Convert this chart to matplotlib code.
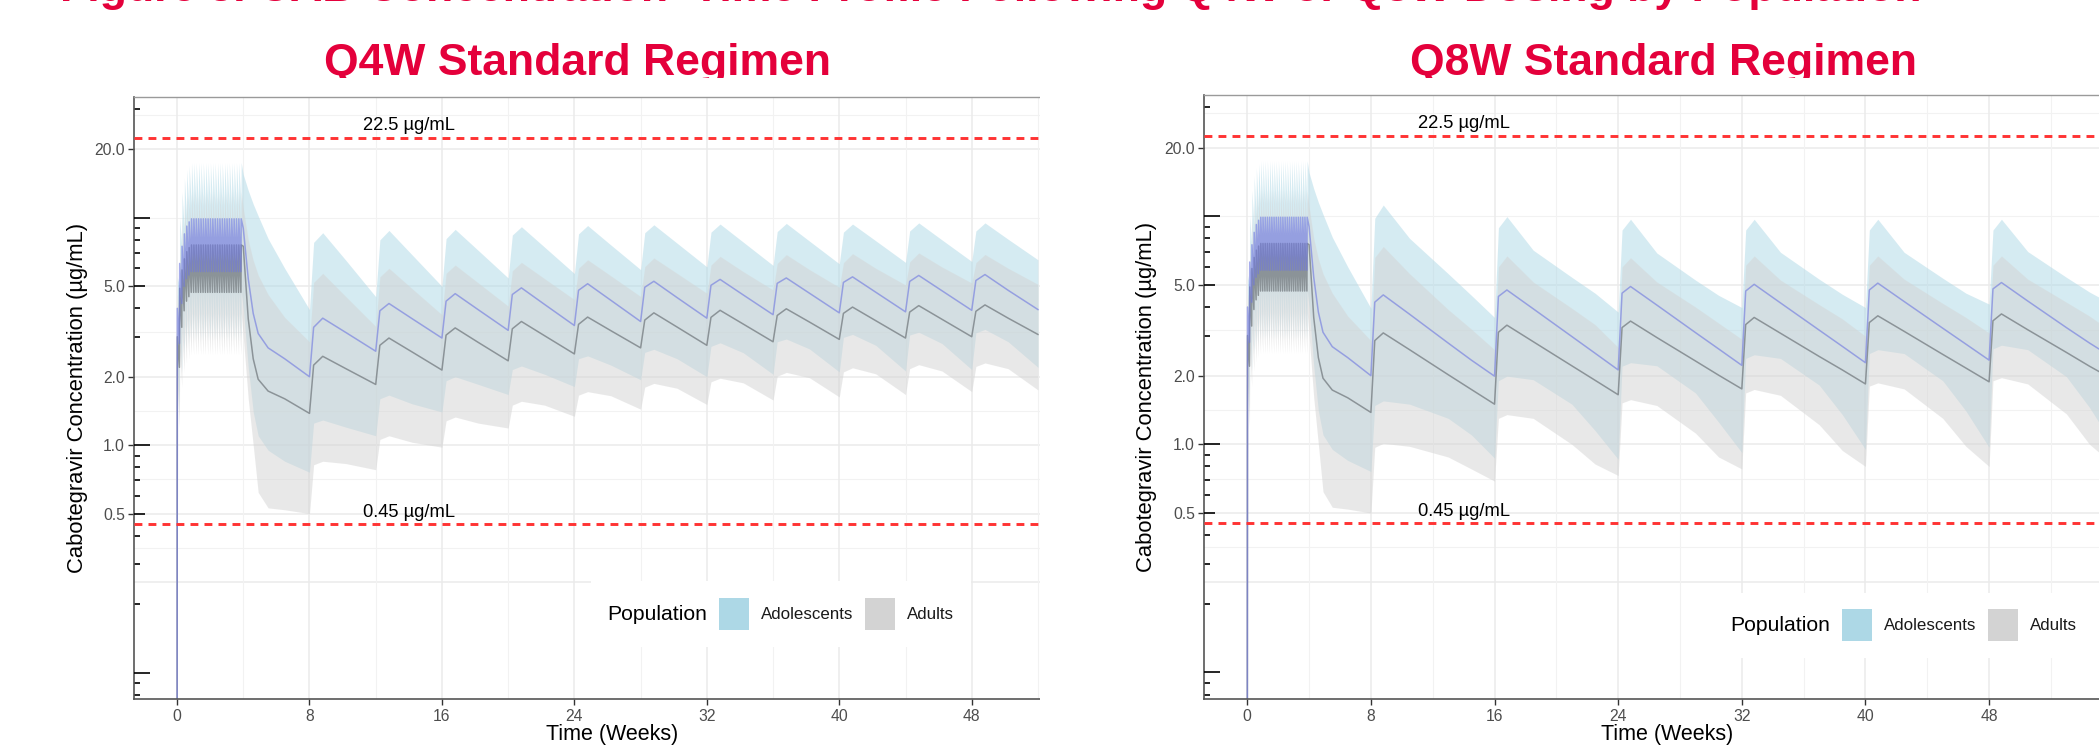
import matplotlib
matplotlib.use("Agg")
import matplotlib.pyplot as plt
from matplotlib.patches import Rectangle
from matplotlib.offsetbox import AnchoredOffsetbox, HPacker, TextArea, DrawingArea
from matplotlib.transforms import Bbox, TransformedBbox
from matplotlib.ticker import FixedLocator, NullFormatter

plt.rcParams['font.family'] = ['Liberation Sans', 'DejaVu Sans']

W, H = 2099, 745

# ---------------- data (ug/mL against weeks) ----------------
# oral lead-in: one tablet a day for 28 days; value just before each dose and the peak after it
oral_day = list(range(28))
oral_adol_med_trough = [0.01, 2.8, 4.2, 5.0, 5.4, 5.6, 5.8, 5.8, 5.8, 5.8, 5.8, 5.8, 5.8, 5.8,
                        5.8, 5.8, 5.8, 5.8, 5.8, 5.8, 5.8, 5.8, 5.8, 5.8, 5.8, 5.8, 5.8, 5.8]
oral_adol_med_peak = [4.0, 6.3, 7.5, 8.5, 9.2, 9.6, 9.9, 9.9, 9.9, 9.9, 9.9, 9.9, 9.9, 9.9,
                      9.9, 9.9, 9.9, 9.9, 9.9, 9.9, 9.9, 9.9, 9.9, 9.9, 9.9, 9.9, 9.9, 9.9]
oral_adult_med_trough = [0.01, 2.2, 3.3, 3.9, 4.3, 4.5, 4.7, 4.7, 4.7, 4.7, 4.7, 4.7, 4.7, 4.7,
                         4.7, 4.7, 4.7, 4.7, 4.7, 4.7, 4.7, 4.7, 4.7, 4.7, 4.7, 4.7, 4.7, 4.7]
oral_adult_med_peak = [3.0, 4.9, 5.9, 6.6, 7.1, 7.4, 7.6, 7.6, 7.6, 7.6, 7.6, 7.6, 7.6, 7.6,
                       7.6, 7.6, 7.6, 7.6, 7.6, 7.6, 7.6, 7.6, 7.6, 7.6, 7.6, 7.6, 7.6, 7.6]
oral_adol_hi_trough = [0.01, 5.0, 7.5, 9.0, 10.2, 10.9, 11.4, 11.4, 11.4, 11.4, 11.4, 11.4, 11.4, 11.4,
                       11.4, 11.4, 11.4, 11.4, 11.4, 11.4, 11.4, 11.4, 11.4, 11.4, 11.4, 11.4, 11.4, 11.4]
oral_adol_hi_peak = [5.5, 10.0, 13.0, 15.0, 16.3, 17.0, 17.5, 17.5, 17.5, 17.5, 17.5, 17.5, 17.5, 17.5,
                     17.5, 17.5, 17.5, 17.5, 17.5, 17.5, 17.5, 17.5, 17.5, 17.5, 17.5, 17.5, 17.5, 17.5]
oral_adult_hi_trough = [0.01, 3.8, 5.6, 6.8, 7.5, 8.0, 8.3, 8.3, 8.3, 8.3, 8.3, 8.3, 8.3, 8.3,
                        8.3, 8.3, 8.3, 8.3, 8.3, 8.3, 8.3, 8.3, 8.3, 8.3, 8.3, 8.3, 8.3, 8.3]
oral_adult_hi_peak = [4.6, 7.8, 10.0, 11.4, 12.3, 12.7, 13.0, 13.0, 13.0, 13.0, 13.0, 13.0, 13.0, 13.0,
                      13.0, 13.0, 13.0, 13.0, 13.0, 13.0, 13.0, 13.0, 13.0, 13.0, 13.0, 13.0, 13.0, 13.0]
oral_adol_lo_trough = [0.01, 1.4, 2.1, 2.5, 2.7, 2.8, 2.9, 2.9, 2.9, 2.9, 2.9, 2.9, 2.9, 2.9,
                       2.9, 2.9, 2.9, 2.9, 2.9, 2.9, 2.9, 2.9, 2.9, 2.9, 2.9, 2.9, 2.9, 2.9]
oral_adol_lo_peak = [2.4, 3.2, 3.8, 4.2, 4.5, 4.6, 4.7, 4.7, 4.7, 4.7, 4.7, 4.7, 4.7, 4.7,
                     4.7, 4.7, 4.7, 4.7, 4.7, 4.7, 4.7, 4.7, 4.7, 4.7, 4.7, 4.7, 4.7, 4.7]
oral_adult_lo_trough = [0.01, 1.2, 1.8, 2.1, 2.3, 2.4, 2.5, 2.5, 2.5, 2.5, 2.5, 2.5, 2.5, 2.5,
                        2.5, 2.5, 2.5, 2.5, 2.5, 2.5, 2.5, 2.5, 2.5, 2.5, 2.5, 2.5, 2.5, 2.5]
oral_adult_lo_peak = [1.8, 2.6, 3.1, 3.4, 3.6, 3.7, 3.8, 3.8, 3.8, 3.8, 3.8, 3.8, 3.8, 3.8,
                      3.8, 3.8, 3.8, 3.8, 3.8, 3.8, 3.8, 3.8, 3.8, 3.8, 3.8, 3.8, 3.8, 3.8]

# wash-out of the oral drug after week 4 (same in both regimens)
washout_t = [4.0, 4.3, 4.6, 4.9, 5.5, 6.5]
washout_adol_med = [9.0, 5.4, 3.8, 3.1, 2.68, 2.4]
washout_adult_med = [7.5, 3.6, 2.4, 1.95, 1.73, 1.6]
washout_adol_hi = [15.5, 13.2, 11.5, 10.2, 8.1, 6.0]
washout_adult_hi = [11.0, 8.0, 6.5, 5.6, 4.6, 3.65]
washout_adol_lo = [4.0, 2.2, 1.4, 1.1, 0.95, 0.85]
washout_adult_lo = [3.0, 1.6, 1.0, 0.62, 0.53, 0.52]

# Q4W injections
q4w_t = [8, 8.25, 8.8, 10.2, 12, 12.25, 12.8, 14.2, 16, 16.25, 16.8, 18.2,
         20, 20.25, 20.8, 22.2, 24, 24.25, 24.8, 26.2, 28, 28.25, 28.8, 30.2,
         32, 32.25, 32.8, 34.2, 36, 36.25, 36.8, 38.2, 40, 40.25, 40.8, 42.2,
         44, 44.25, 44.8, 46.2, 48, 48.25, 48.8, 50.2, 52]
q4w_adol_med = [2.0, 3.3, 3.62, 3.13, 2.59, 3.9, 4.2, 3.6, 2.96, 4.3, 4.64, 3.94,
                3.2, 4.6, 4.92, 4.16, 3.36, 4.8, 5.13, 4.34, 3.5, 4.95, 5.26, 4.46,
                3.62, 5.05, 5.36, 4.58, 3.75, 5.15, 5.44, 4.66, 3.82, 5.2, 5.5, 4.71,
                3.86, 5.25, 5.58, 4.78, 3.92, 5.3, 5.63, 4.8, 3.95]
q4w_adult_med = [1.38, 2.25, 2.46, 2.17, 1.85, 2.75, 2.96, 2.57, 2.14, 3.05, 3.28, 2.83,
                 2.35, 3.25, 3.5, 3.03, 2.52, 3.4, 3.66, 3.19, 2.68, 3.55, 3.82, 3.31,
                 2.75, 3.65, 3.92, 3.41, 2.85, 3.72, 3.98, 3.48, 2.92, 3.8, 4.05, 3.53,
                 2.96, 3.85, 4.11, 3.58, 3.0, 3.88, 4.14, 3.62, 3.07]
q4w_adol_hi = [3.95, 7.8, 8.6, 6.5, 4.5, 8.0, 8.8, 6.87, 5.0, 8.1, 8.9, 7.18,
               5.44, 8.4, 9.14, 7.43, 5.69, 8.5, 9.25, 7.6, 5.92, 8.6, 9.32, 7.74,
               6.09, 8.65, 9.39, 7.82, 6.18, 8.7, 9.45, 7.9, 6.28, 8.65, 9.39, 7.93,
               6.37, 8.75, 9.5, 8.0, 6.43, 8.75, 9.5, 8.05, 6.54]
q4w_adult_hi = [2.85, 5.2, 5.7, 4.5, 3.33, 5.5, 6.0, 4.88, 3.75, 5.7, 6.2, 5.17,
                4.09, 5.85, 6.37, 5.4, 4.37, 6.0, 6.54, 5.56, 4.51, 6.1, 6.66, 5.7,
                4.66, 6.2, 6.77, 5.8, 4.82, 6.3, 6.89, 5.92, 4.95, 6.35, 6.96, 6.0,
                5.07, 6.4, 7.01, 6.08, 5.17, 6.35, 6.9, 6.0, 5.1]
q4w_adol_lo = [0.76, 1.25, 1.29, 1.2, 1.1, 1.6, 1.66, 1.52, 1.4, 1.92, 2.0, 1.85,
               1.67, 2.15, 2.23, 2.05, 1.81, 2.4, 2.47, 2.25, 1.94, 2.56, 2.64, 2.4,
               2.0, 2.72, 2.82, 2.55, 2.05, 2.85, 2.93, 2.65, 2.1, 2.98, 3.07, 2.75,
               2.12, 3.05, 3.14, 2.8, 2.15, 3.12, 3.23, 2.85, 2.2]
q4w_adult_lo = [0.5, 0.82, 0.85, 0.83, 0.78, 1.06, 1.1, 1.03, 0.98, 1.28, 1.33, 1.25,
                1.19, 1.5, 1.56, 1.5, 1.34, 1.66, 1.72, 1.65, 1.44, 1.8, 1.87, 1.78,
                1.51, 1.9, 1.97, 1.88, 1.58, 2.01, 2.09, 1.98, 1.63, 2.1, 2.19, 2.06,
                1.67, 2.17, 2.26, 2.12, 1.72, 2.22, 2.3, 2.17, 1.75]

# Q8W injections
q8w_t = [8, 8.25, 8.8, 10.5, 13, 14.5, 16, 16.25, 16.8, 18.5, 21, 22.5,
         24, 24.25, 24.8, 26.5, 29, 30.5, 32, 32.25, 32.8, 34.5, 37, 38.5,
         40, 40.25, 40.8, 42.5, 45, 46.5, 48, 48.25, 48.8, 50.5, 53, 54.5, 56]
q8w_adol_med = [2.0, 4.2, 4.52, 3.72, 2.78, 2.34, 1.99, 4.45, 4.75, 3.93, 2.97, 2.51,
                2.12, 4.6, 4.92, 4.08, 3.09, 2.62, 2.22, 4.7, 5.03, 4.17, 3.17, 2.69,
                2.28, 4.75, 5.09, 4.23, 3.23, 2.75, 2.34, 4.8, 5.12, 4.25, 3.25, 2.78, 2.4]
q8w_adult_med = [1.38, 2.85, 3.08, 2.6, 2.02, 1.74, 1.5, 3.1, 3.33, 2.82, 2.21, 1.91,
                 1.65, 3.25, 3.47, 2.94, 2.32, 2.01, 1.75, 3.35, 3.6, 3.07, 2.43, 2.12,
                 1.84, 3.42, 3.66, 3.13, 2.48, 2.16, 1.88, 3.48, 3.73, 3.18, 2.53, 2.2, 1.93]
q8w_adol_hi = [3.95, 9.8, 11.2, 8.0, 5.6, 4.5, 3.6, 8.9, 9.96, 7.1, 5.4, 4.6,
               3.8, 8.7, 9.7, 6.9, 5.25, 4.5, 3.98, 8.7, 9.7, 6.95, 5.3, 4.55,
               3.98, 8.7, 9.7, 6.95, 5.35, 4.6, 4.12, 8.7, 9.7, 7.0, 5.4, 4.65, 4.1]
q8w_adult_hi = [2.85, 6.6, 7.37, 5.6, 3.9, 3.2, 2.6, 6.0, 6.7, 5.15, 3.95, 3.35,
                2.66, 6.0, 6.58, 5.15, 4.0, 3.4, 2.89, 6.1, 6.7, 5.25, 4.1, 3.55,
                2.98, 6.1, 6.7, 5.3, 4.15, 3.6, 3.08, 6.1, 6.7, 5.3, 4.2, 3.65, 3.1]
q8w_adol_lo = [0.76, 1.48, 1.55, 1.5, 1.3, 1.1, 0.87, 1.9, 1.99, 1.92, 1.5, 1.15,
               0.86, 2.2, 2.28, 2.21, 1.68, 1.25, 0.92, 2.38, 2.47, 2.38, 1.82, 1.35,
               0.95, 2.5, 2.6, 2.5, 1.9, 1.4, 0.97, 2.62, 2.72, 2.6, 1.98, 1.45, 1.0]
q8w_adult_lo = [0.5, 0.97, 1.01, 0.98, 0.88, 0.78, 0.69, 1.3, 1.35, 1.3, 1.0, 0.82,
                0.73, 1.52, 1.57, 1.48, 1.12, 0.88, 0.78, 1.68, 1.74, 1.64, 1.22, 0.94,
                0.8, 1.8, 1.86, 1.75, 1.3, 0.98, 0.8, 1.9, 1.96, 1.84, 1.36, 1.0, 0.82]

ref_levels = [22.5, 0.45]
ref_labels = ['22.5 µg/mL', '0.45 µg/mL']
ref_label_week = 14

pop_names = ['Adolescents', 'Adults']
pop_colors = ['#ADD8E6', '#D3D3D3']

y_ticks = [0.5, 1, 2, 5, 20]
y_ticklabels = ['0.5', '1.0', '2.0', '5.0', '20.0']
y_grid_major = [0.25, 0.5, 1, 2, 5, 20]
y_grid_minor = [0.354, 0.707, 1.414, 3.162, 10, 28.3]
logticks_short = [0.08, 0.09, 0.2, 0.3, 0.4, 0.6, 0.7, 0.8, 0.9, 2, 3, 4, 6, 7, 8, 9, 20, 30]
logticks_mid = [0.5, 5]
logticks_long = [0.1, 1, 10]
y_lim = (0.0765, 34.0)

TITLE_RED = '#E4003B'


def oral_part(trough, peak):
    t, v = [], []
    for d, lo, hi in zip(oral_day, trough, peak):
        t += [d / 7, (d + 0.12) / 7]
        v += [lo, hi]
    return t, v


def series(oral_tr, oral_pk, wash, panel_t, vals):
    t0, v0 = oral_part(oral_tr, oral_pk)
    return t0 + washout_t + panel_t, v0 + wash + vals


def build(panel_t, med_a, med_b, hi_a, hi_b, lo_a, lo_b):
    out = {}
    t, out['adol_med'] = series(oral_adol_med_trough, oral_adol_med_peak, washout_adol_med, panel_t, med_a)
    _, out['adult_med'] = series(oral_adult_med_trough, oral_adult_med_peak, washout_adult_med, panel_t, med_b)
    _, out['adol_hi'] = series(oral_adol_hi_trough, oral_adol_hi_peak, washout_adol_hi, panel_t, hi_a)
    _, out['adult_hi'] = series(oral_adult_hi_trough, oral_adult_hi_peak, washout_adult_hi, panel_t, hi_b)
    _, out['adol_lo'] = series(oral_adol_lo_trough, oral_adol_lo_peak, washout_adol_lo, panel_t, lo_a)
    _, out['adult_lo'] = series(oral_adult_lo_trough, oral_adult_lo_peak, washout_adult_lo, panel_t, lo_b)
    return t, out


def px_box(x0, top, x1, bottom):
    return [x0 / W, 1 - bottom / H, (x1 - x0) / W, (bottom - top) / H]


def add_legend(ax, x, y):
    items = [TextArea('Population', textprops=dict(fontsize=15.2, color='black'))]
    for name, col in zip(pop_names, pop_colors):
        da = DrawingArea(21.6, 23, 0, 0)
        da.add_artist(Rectangle((0, 0), 21.6, 23, facecolor=col, edgecolor='none'))
        items += [da, TextArea(name, textprops=dict(fontsize=12.2, color='#1A1A1A'))]
    box = HPacker(children=items, align='center', pad=0, sep=8.6)
    anc = AnchoredOffsetbox(loc='center', child=box, pad=1.2, frameon=True, borderpad=0,
                            bbox_to_anchor=(x, y), bbox_transform=ax.transAxes)
    anc.patch.set_facecolor('white')
    anc.patch.set_edgecolor('none')
    anc.set_zorder(5)
    ax.add_artist(anc)


def draw_panel(ax, ax2, t, s, xlim, xmajor, xminor, legend_xy, xlabel_x):
    ax.set_yscale('log')
    ax.set_ylim(*y_lim)
    ax.set_xlim(*xlim)

    # grid
    for v in y_grid_major:
        ax.axhline(v, color='#EBEBEB', lw=1.1, zorder=0.5)
    for v in y_grid_minor:
        ax.axhline(v, color='#F2F2F2', lw=0.8, zorder=0.5)
    for v in xmajor:
        ax.axvline(v, color='#EBEBEB', lw=1.1, zorder=0.5)
    for v in xminor:
        ax.axvline(v, color='#F2F2F2', lw=0.8, zorder=0.5)

    # bands and medians
    ax.fill_between(t, s['adol_lo'], s['adol_hi'], color=pop_colors[0], alpha=0.5, lw=0, zorder=1)
    ax.fill_between(t, s['adult_lo'], s['adult_hi'], color=pop_colors[1], alpha=0.5, lw=0, zorder=1.1)
    ax.plot(t, s['adult_med'], color='#5C6267', alpha=0.6, lw=1.1, zorder=2)
    ax.plot(t, s['adol_med'], color='#6D76E0', alpha=0.6, lw=1.1, zorder=2.1)

    # reference levels
    for lev, lab in zip(ref_levels, ref_labels):
        ax.axhline(lev, color='#FF3333', lw=2.1, ls=(0, (2.7, 2.1)), zorder=3)
        ax.annotate(lab, xy=(ref_label_week, lev), xytext=(0, 5.4), textcoords='offset points',
                    ha='center', va='baseline', fontsize=13.2, color='black', zorder=4)

    # axes look
    ax.set_xticks(xmajor)
    ax.set_yticks(y_ticks, y_ticklabels)
    ax.yaxis.set_minor_locator(FixedLocator(logticks_short))
    ax.yaxis.set_minor_formatter(NullFormatter())
    ax.tick_params(axis='both', which='major', direction='out', length=4.3, width=1.0,
                   color='#333333', labelsize=11.3, labelcolor='#4D4D4D')
    ax.tick_params(axis='x', which='major', pad=2.7)
    ax.tick_params(axis='y', which='major', pad=2.2)
    ax.tick_params(axis='y', which='minor', direction='in', length=4.1, width=1.2, color='black')
    ax.tick_params(axis='x', which='minor', length=0)
    for side in ('left', 'bottom'):
        ax.spines[side].set_color('#555555')
        ax.spines[side].set_linewidth(1.2)
    ax.spines['top'].set_color('#9A9A9A')
    ax.spines['top'].set_linewidth(1.0)
    ax.spines['right'].set_visible(False)

    ax.set_ylabel('Cabotegravir Concentration (µg/mL)', fontsize=15.8, color='black')
    ax.yaxis.set_label_coords(-0.049, 0.5)
    ax.set_xlabel('Time (Weeks)', fontsize=15.5, color='black')
    ax.xaxis.set_label_coords(xlabel_x, -0.042)

    # long / mid log ticks on an overlay axis
    ax2.set_yscale('log')
    ax2.set_ylim(*y_lim)
    ax2.set_xlim(0, 1)
    ax2.patch.set_visible(False)
    for sp in ax2.spines.values():
        sp.set_visible(False)
    ax2.xaxis.set_visible(False)
    ax2.yaxis.set_major_locator(FixedLocator(logticks_long))
    ax2.yaxis.set_minor_locator(FixedLocator(logticks_mid))
    ax2.yaxis.set_major_formatter(NullFormatter())
    ax2.yaxis.set_minor_formatter(NullFormatter())
    ax2.tick_params(axis='y', which='major', direction='in', length=11.3, width=1.2, color='black')
    ax2.tick_params(axis='y', which='minor', direction='in', length=7.7, width=1.2, color='black')

    add_legend(ax, *legend_xy)


fig = plt.figure(figsize=(W / 100, H / 100), dpi=100)
fig.patch.set_facecolor('white')

ax_l = fig.add_axes(px_box(134, 97, 1081, 699), zorder=1)
ax_l2 = fig.add_axes(px_box(134, 97, 1081, 699), zorder=1.5)
ax_r = fig.add_axes(px_box(1204, 95, 2156, 699), zorder=3)
ax_r2 = fig.add_axes(px_box(1204, 95, 2156, 699), zorder=3.5)

t4, s4 = build(q4w_t, q4w_adol_med, q4w_adult_med, q4w_adol_hi, q4w_adult_hi, q4w_adol_lo, q4w_adult_lo)
t8, s8 = build(q8w_t, q8w_adol_med, q8w_adult_med, q8w_adol_hi, q8w_adult_hi, q8w_adol_lo, q8w_adult_lo)

draw_panel(ax_l, ax_l2, t4, s4, (-2.6, 54.6), [0, 8, 16, 24, 32, 40, 48],
           [4, 12, 20, 28, 36, 44, 52], (0.683, 0.141), 0.505)
draw_panel(ax_r, ax_r2, t8, s8, (-2.8, 58.8), [0, 8, 16, 24, 32, 40, 48],
           [4, 12, 20, 28, 36, 44, 52], (0.735, 0.122), 0.487)

# the right-hand plot sits over the tail of the left one
fig.add_artist(Rectangle((1040 / W, 0), (1204 - 1040) / W, 1 - 80 / H, transform=fig.transFigure,
                         facecolor='white', edgecolor='none', zorder=2))

# titles (cut off by the plot images below them, and by the page edge at the top)
clip = TransformedBbox(Bbox([[0, 1 - 78 / H], [1, 1]]), fig.transFigure)
for x, txt in [(577, 'Q4W Standard Regimen'), (1663, 'Q8W Standard Regimen')]:
    tt = fig.text(x / W, 1 - 75 / H, txt, ha='center', va='baseline', fontsize=32,
                  fontweight='bold', color=TITLE_RED)
    tt.set_clip_box(clip)
    tt.set_clip_on(True)
fig.text(60 / W, 1 - 1.5 / H, 'Figure 3. CAB Concentration\u2013Time Profile Following Q4W or Q8W Dosing by Population',
         ha='left', va='baseline', fontsize=32, fontweight='bold', color=TITLE_RED)

fig.savefig('out.png', dpi=100, facecolor='white')
